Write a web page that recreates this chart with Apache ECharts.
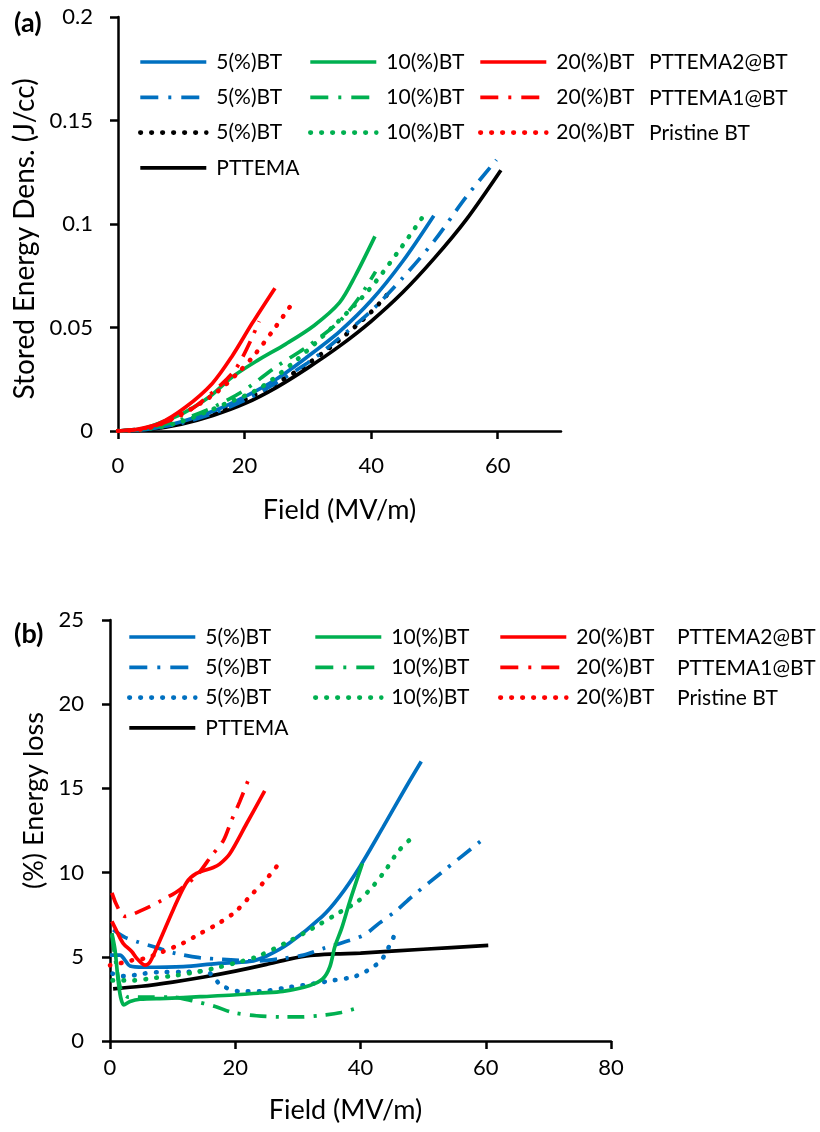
<!DOCTYPE html>
<html>
<head>
<meta charset="utf-8">
<script src="https://cdn.jsdelivr.net/npm/echarts@6/dist/echarts.min.js"></script>
<style>
  html, body { margin: 0; padding: 0; background: #fff; }
  #chart { width: 820px; height: 1132px; }
</style>
</head>
<body>
<div id="chart"></div>
<script>
// ---- Data: [field (MV/m), value] ----

// (a) Stored energy density (J/cc)
const storedPttema      = [[0,0],[5,0.0008],[10,0.0033],[15,0.0075],[20,0.0132],[25,0.021],[30,0.0305],[35,0.041],[40,0.053],[45,0.067],[50,0.0835],[55,0.102],[60.5,0.126]];
const storedP2Bt5       = [[0,0],[5,0.001],[10,0.0045],[15,0.0095],[20,0.0165],[25,0.025],[30,0.036],[35,0.048],[40,0.063],[45,0.082],[49.9,0.104]];
const storedP2Bt10      = [[0,0],[4,0.0012],[7.5,0.005],[10.2,0.0084],[14.4,0.0164],[18,0.026],[22,0.034],[26.5,0.042],[31,0.051],[35,0.062],[37.5,0.075],[40.6,0.094]];
const storedP2Bt20      = [[0,0],[3,0.0008],[6.5,0.0036],[10.7,0.0116],[14.9,0.023],[18,0.036],[21.2,0.052],[24.8,0.069]];
const storedP1Bt5       = [[0,0],[10,0.0038],[20,0.0148],[30,0.033],[35,0.045],[40,0.058],[45,0.074],[50,0.092],[55,0.113],[59.8,0.131]];
const storedP1Bt10      = [[0,0],[5,0.0015],[10,0.0055],[14,0.01],[19.6,0.019],[25,0.031],[30,0.041],[35,0.053],[38,0.064],[40.7,0.077]];
const storedP1Bt20      = [[0,0],[5,0.0018],[10,0.0075],[13.6,0.0152],[18.6,0.030],[22.3,0.053]];
const storedPristine5   = [[0,0],[5,0.001],[10,0.004],[15,0.0085],[20,0.015],[25,0.023],[30,0.0325],[35,0.044],[40,0.0575],[43.3,0.0685]];
const storedPristine10  = [[0,0],[5,0.0012],[10,0.0045],[17,0.0132],[22.3,0.0205],[28.1,0.034],[33.8,0.050],[39.6,0.068],[44.6,0.088],[48.5,0.105]];
const storedPristine20  = [[0,0],[5,0.0015],[11.2,0.010],[15.7,0.019],[19.1,0.0285],[21.5,0.0365],[24.6,0.049],[27.5,0.0615]];

// (b) Energy loss (%)
const lossPttema        = [[0.5,3.1],[5,3.25],[10,3.5],[15,3.8],[20,4.15],[25,4.55],[28.6,4.86],[32,5.08],[36,5.17],[40,5.22],[50,5.45],[60.4,5.68]];
const lossP2Bt5         = [[0,5.1],[1.6,5.1],[2.4,4.8],[3.2,4.45],[5.3,4.38],[11.7,4.42],[17,4.6],[22.3,4.72],[25,5.05],[28.6,5.8],[33.9,7.4],[36.7,8.6],[39.9,10.35],[43.6,12.7],[47.3,15.1],[49.7,16.6]];
const lossP2Bt10        = [[0.3,6.4],[0.8,5.4],[1.3,3.6],[1.7,2.6],[2.2,2.15],[3.2,2.35],[4.8,2.48],[9,2.53],[14.4,2.63],[19.7,2.73],[23.9,2.85],[27.6,2.95],[31.9,3.3],[34,3.7],[35.1,4.4],[35.9,5.6],[37,6.7],[38.3,8.3],[40.3,10.55]];
const lossP2Bt20        = [[0.3,7.1],[1.1,6.5],[2.1,5.8],[3.5,5.3],[4.3,4.9],[5.6,4.5],[6.4,4.7],[8,6.0],[10.1,7.8],[12.2,9.4],[13.8,9.95],[16.5,10.3],[17.5,10.5],[19.1,11.1],[21.8,12.9],[24.7,14.85]];
const lossP1Bt5         = [[0.5,6.6],[2.4,6.15],[4.3,5.9],[7.4,5.55],[10.5,5.2],[14.3,4.95],[18,4.85],[23.4,4.75],[27.5,4.9],[30.9,5.1],[34.1,5.5],[37.2,5.85],[40.6,6.3],[43,7.0],[45.6,7.7],[48.3,8.6],[53.6,10.2],[59.3,11.9]];
const lossP1Bt10        = [[0.3,6.3],[1,4.5],[1.8,3.0],[3,2.6],[6,2.6],[10,2.6],[13,2.4],[16.8,2.05],[19.5,1.7],[23.4,1.5],[27.6,1.43],[30.2,1.43],[34.5,1.55],[36.9,1.69],[40.3,2.05]];
const lossP1Bt20        = [[0.3,8.8],[2.4,7.4],[5.3,7.8],[8.5,8.4],[11.2,9.0],[14,9.9],[16.2,11.0],[18.1,11.9],[19.4,13.1],[20.7,14.2],[22.4,15.8]];
const lossPristine5     = [[0.4,4.0],[2,3.85],[3.7,3.9],[5.3,4.0],[8.5,4.1],[12,4.1],[15.4,4.15],[16.5,3.8],[17.8,3.3],[20.7,2.95],[23.9,2.95],[28.7,3.2],[32.4,3.4],[35.6,3.6],[38.8,3.8],[40.7,4.1],[42,4.4],[43.3,4.77],[44.1,5.3],[44.9,5.85],[45.6,6.45]];
const lossPristine10    = [[0.4,3.6],[3.7,3.6],[7.2,3.75],[10.6,3.9],[13.8,4.1],[17,4.35],[20.2,4.65],[23.4,5.0],[28.2,5.85],[32.4,6.7],[36.7,7.65],[39.6,8.3],[42,9.2],[44.1,10.2],[46,11.25],[48.3,12.1]];
const lossPristine20    = [[0,4.5],[2,4.65],[3.6,4.8],[5.5,4.9],[8.4,5.3],[11.6,5.8],[14.5,6.4],[17.4,7.0],[20.1,7.7],[22.5,8.65],[24.6,9.45],[27,10.55]];

// Axis ticks
const xTicksA = [0, 20, 40, 60];
const xTicksB = [0, 20, 40, 60, 80];

// Legend row captions
const rowCaptions = ['PTTEMA2@BT', 'PTTEMA1@BT', 'Pristine BT'];

// ---- Styling ----
const FONT = 'Lato';
const BLUE = '#0070C0', GREEN = '#00B050', RED = '#FF0000', BLACK = '#000000';
const SOLID = { type: 'solid', width: 3.7, cap: 'butt' };
const DASHDOT = { type: [17, 9, 3, 9], width: 3.7, cap: 'butt' };
const DOTTED = { type: [0.6, 10.4], width: 4.6, cap: 'round' };

function line(name, data, color, style, idx) {
  return {
    name, type: 'line', data,
    xAxisIndex: idx, yAxisIndex: idx,
    smooth: 0.3, symbol: 'none', showSymbol: false,
    lineStyle: Object.assign({ color }, style),
    itemStyle: { color },
    emphasis: { disabled: true },
    z: 2
  };
}

const series = [
  // (a)
  line('A PTTEMA', storedPttema, BLACK, SOLID, 0),
  line('A Pristine 5(%)BT', storedPristine5, BLACK, DOTTED, 0),
  line('A P1 5(%)BT', storedP1Bt5, BLUE, DASHDOT, 0),
  line('A P2 5(%)BT', storedP2Bt5, BLUE, SOLID, 0),
  line('A Pristine 10(%)BT', storedPristine10, GREEN, DOTTED, 0),
  line('A P1 10(%)BT', storedP1Bt10, GREEN, DASHDOT, 0),
  line('A P2 10(%)BT', storedP2Bt10, GREEN, SOLID, 0),
  line('A Pristine 20(%)BT', storedPristine20, RED, DOTTED, 0),
  line('A P1 20(%)BT', storedP1Bt20, RED, DASHDOT, 0),
  line('A P2 20(%)BT', storedP2Bt20, RED, SOLID, 0),
  // (b)
  line('B PTTEMA', lossPttema, BLACK, SOLID, 1),
  line('B Pristine 5(%)BT', lossPristine5, BLUE, DOTTED, 1),
  line('B P1 5(%)BT', lossP1Bt5, BLUE, DASHDOT, 1),
  line('B P2 5(%)BT', lossP2Bt5, BLUE, SOLID, 1),
  line('B Pristine 10(%)BT', lossPristine10, GREEN, DOTTED, 1),
  line('B P1 10(%)BT', lossP1Bt10, GREEN, DASHDOT, 1),
  line('B P2 10(%)BT', lossP2Bt10, GREEN, SOLID, 1),
  line('B Pristine 20(%)BT', lossPristine20, RED, DOTTED, 1),
  line('B P1 20(%)BT', lossP1Bt20, RED, DASHDOT, 1),
  line('B P2 20(%)BT', lossP2Bt20, RED, SOLID, 1)
];

// One vertical legend per BT-content column; the icon shows only the line
function column(prefix, pct, left, top, gap, withPttema) {
  const names = [
    { name: prefix + ' P2 ' + pct, lineStyle: { width: SOLID.width } },
    { name: prefix + ' P1 ' + pct, lineStyle: { width: DASHDOT.width, type: [18, 10, 3, 10] } },
    { name: prefix + ' Pristine ' + pct, lineStyle: { width: DOTTED.width, cap: 'round', type: DOTTED.type } }
  ];
  if (withPttema) names.push({ name: prefix + ' PTTEMA', lineStyle: { width: SOLID.width } });
  return {
    data: names, left, top, orient: 'vertical',
    itemWidth: 66, itemHeight: 14, itemGap: gap,
    selectedMode: false, padding: 0,
    itemStyle: { opacity: 0 },
    formatter: n => n.split(' ').pop(),
    textStyle: { fontFamily: FONT, fontSize: 21, color: BLACK, lineHeight: 24, padding: [0, 0, 0, 5] }
  };
}

const legends = [
  column('A', '5(%)BT', 138, 50, 11.3, true),
  column('A', '10(%)BT', 308, 50, 11.3, false),
  column('A', '20(%)BT', 478, 50, 11.3, false),
  column('B', '5(%)BT', 127, 625, 6.3, true),
  column('B', '10(%)BT', 313, 625, 6.3, false),
  column('B', '20(%)BT', 498, 625, 6.3, false)
];

const captionText = (x, y, text) => ({
  type: 'text', x, y,
  style: { text, fontFamily: FONT, fontSize: 21, fill: BLACK, verticalAlign: 'middle', align: 'left' }
});
const graphics = [];
[62, 98, 133].forEach((y, i) => graphics.push(captionText(649, y, rowCaptions[i])));
[637, 668, 698].forEach((y, i) => graphics.push(captionText(677, y, rowCaptions[i])));

const axisLine = { show: true, onZero: false, lineStyle: { color: BLACK, width: 2.5 } };
const label = (margin) => ({ color: BLACK, fontFamily: FONT, fontSize: 22, margin });
const nameStyle = (padding) => ({ color: BLACK, fontFamily: FONT, fontSize: 27, padding });
const panelTitle = { fontFamily: FONT, fontSize: 27, fontWeight: 'bold', color: BLACK };

const option = {
  backgroundColor: '#ffffff',
  animation: false,
  title: [
    { text: '(a)', left: 14, top: 10, padding: 0, textStyle: panelTitle },
    { text: '(b)', left: 14, top: 621, padding: 0, textStyle: panelTitle }
  ],
  grid: [
    { left: 118, top: 17, width: 443, height: 414 },
    { left: 110, top: 620, width: 501, height: 421 }
  ],
  xAxis: [
    {
      type: 'value', gridIndex: 0, min: 0, max: 70, interval: 10,
      axisLine, splitLine: { show: false },
      axisTick: { show: true, length: 8, customValues: xTicksA, lineStyle: { color: BLACK, width: 2.5 } },
      axisLabel: Object.assign(label(24), { customValues: xTicksA }),
      name: 'Field (MV/m)', nameLocation: 'middle', nameGap: 66, nameTextStyle: nameStyle([0, 0, 0, 0])
    },
    {
      type: 'value', gridIndex: 1, min: 0, max: 80, interval: 20,
      axisLine, splitLine: { show: false },
      axisTick: { show: true, length: 8, customValues: xTicksB, lineStyle: { color: BLACK, width: 2.5 } },
      axisLabel: Object.assign(label(16), { customValues: xTicksB }),
      name: 'Field (MV/m)', nameLocation: 'middle', nameGap: 56, nameTextStyle: nameStyle([0, 30, 0, 0])
    }
  ],
  yAxis: [
    {
      type: 'value', gridIndex: 0, min: 0, max: 0.2, interval: 0.05,
      axisLine, splitLine: { show: false },
      axisTick: { show: true, length: 8, lineStyle: { color: BLACK, width: 2.5 } },
      axisLabel: label(25),
      name: 'Stored Energy Dens. (J/cc)', nameLocation: 'middle', nameGap: 76,
      nameTextStyle: Object.assign(nameStyle([0, 30, 0, 0]), { fontSize: 28 })
    },
    {
      type: 'value', gridIndex: 1, min: 0, max: 25, interval: 5,
      axisLine, splitLine: { show: false },
      axisTick: { show: true, length: 8, lineStyle: { color: BLACK, width: 2.5 } },
      axisLabel: label(26),
      name: '(%) Energy loss', nameLocation: 'middle', nameGap: 62, nameTextStyle: nameStyle([0, 0, 0, 60])
    }
  ],
  legend: legends,
  graphic: graphics,
  series
};

const chart = echarts.init(document.getElementById('chart'), null, { renderer: 'canvas' });
chart.setOption(option);
</script>
</body>
</html>
